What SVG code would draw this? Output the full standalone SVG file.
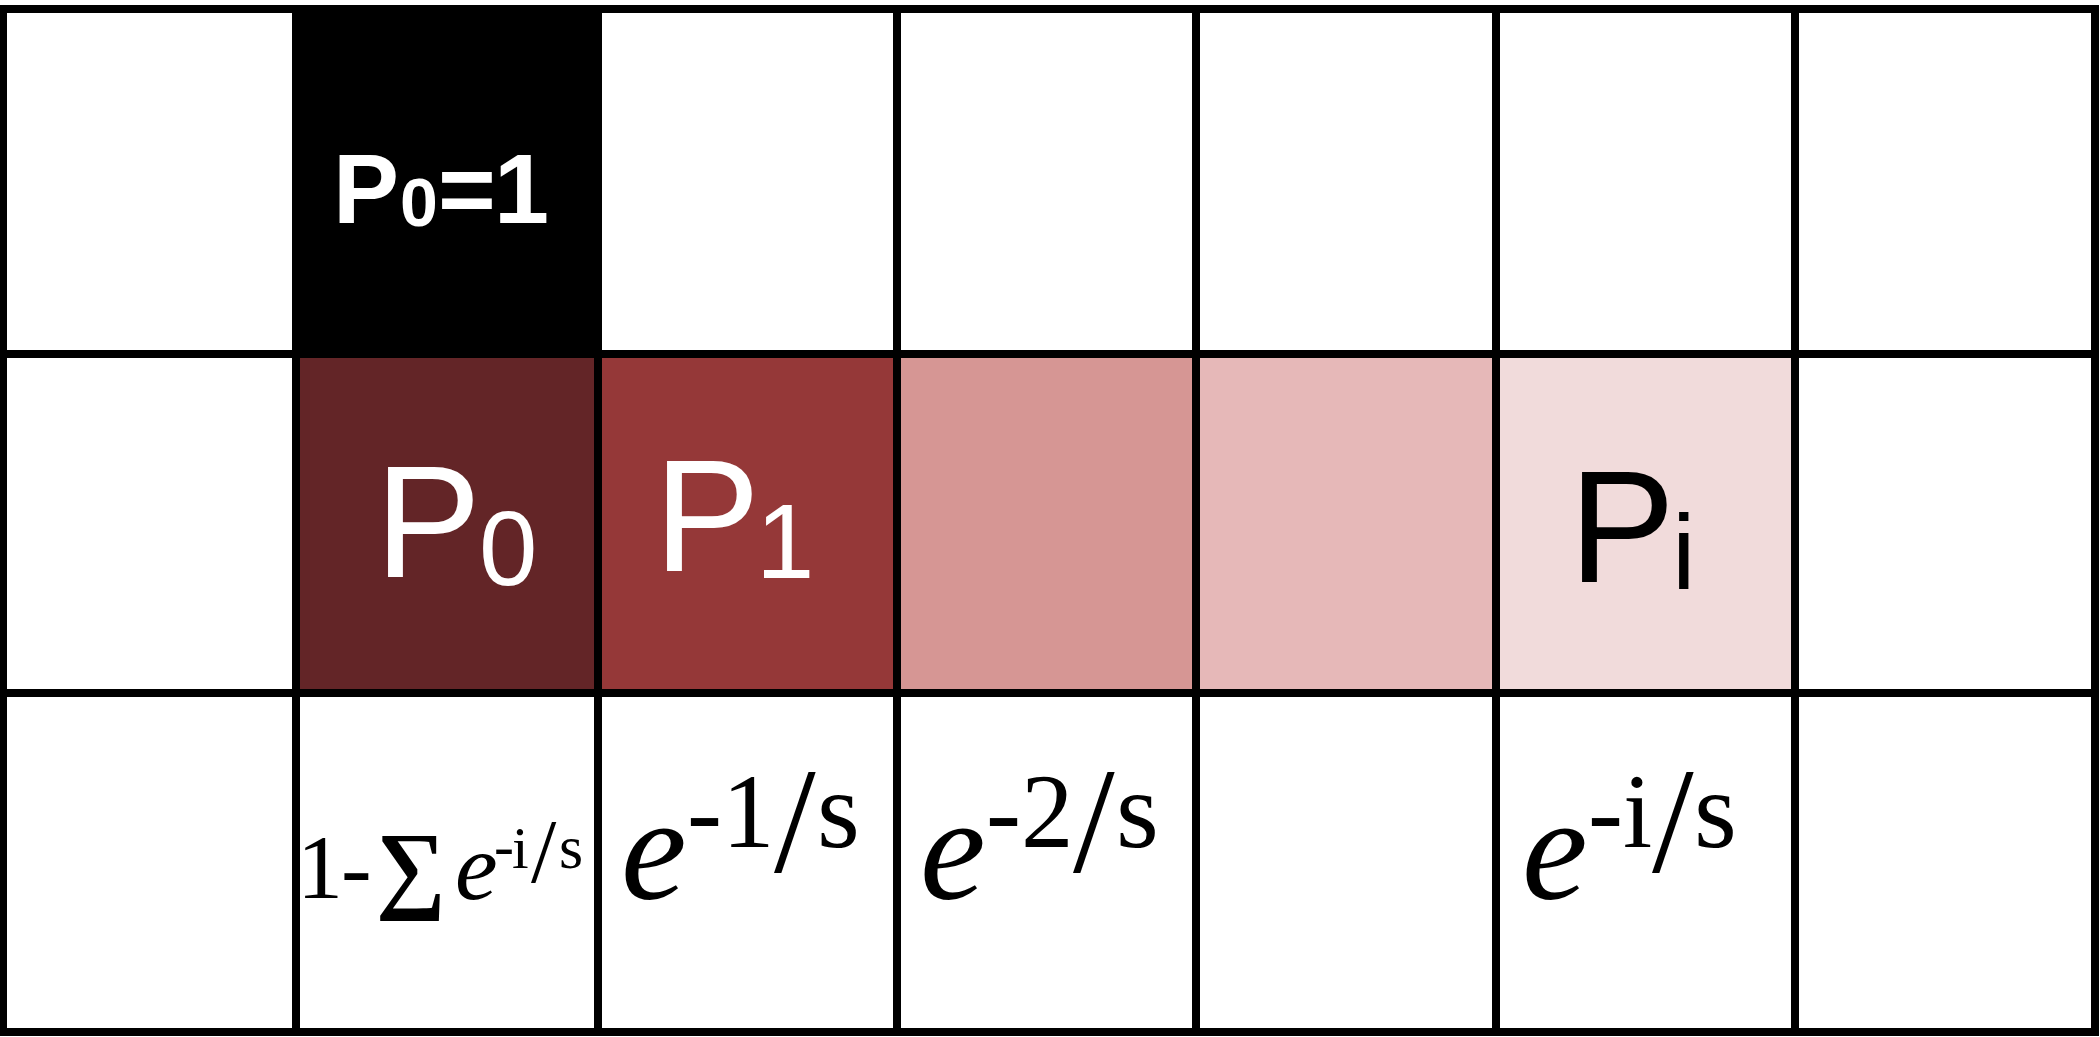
<svg xmlns="http://www.w3.org/2000/svg" width="2100" height="1037" viewBox="0 0 2100 1037">
<style>
.sans{font-family:"Liberation Sans",Arial,sans-serif;}
.serif{font-family:"Liberation Serif","Times New Roman",serif;fill:#000;}
.it{font-style:italic;}
.grid{fill:none;stroke:#000;stroke-width:8;stroke-linecap:square;}
</style>
<rect x="0" y="0" width="2100" height="1037" fill="#ffffff"/>
<g id="cells">
  <g id="cell-p0-top">
    <rect x="296" y="9" width="302" height="345" fill="#000000"/>
    <text class="sans" fill="#ffffff" font-weight="bold" font-size="99" x="333" y="223">P<tspan font-size="68" x="400" y="226">0</tspan><tspan x="438" y="223">=</tspan><tspan x="494" y="223">1</tspan></text>
  </g>
  <g id="cell-p0">
    <rect x="296" y="354" width="302" height="339" fill="#632527"/>
    <text class="sans" fill="#ffffff" font-size="159" x="375" y="577">P<tspan font-size="105" x="479" y="585">0</tspan></text>
  </g>
  <g id="cell-p1">
    <rect x="598" y="354" width="299" height="339" fill="#953838"/>
    <text class="sans" fill="#ffffff" font-size="159" x="654" y="571">P<tspan font-size="105" x="756" y="578">1</tspan></text>
  </g>
  <g id="cell-p2">
    <rect x="897" y="354" width="299" height="339" fill="#d69694"/>
  </g>
  <g id="cell-p3">
    <rect x="1196" y="354" width="300" height="339" fill="#e6b8b8"/>
  </g>
  <g id="cell-pi">
    <rect x="1496" y="354" width="299" height="339" fill="#f1dbdb"/>
    <text class="sans" fill="#000000" font-size="159" x="1569" y="582">P<tspan font-size="106" x="1672" y="589">i</tspan></text>
  </g>
  <g id="label-sum">
    <text class="serif" font-size="92" x="297" y="898">1<tspan x="341">-</tspan><tspan x="376" y="900" font-size="98" font-weight="bold">∑</tspan><tspan class="it" x="455" y="899" font-size="96">e</tspan><tspan x="494" y="866" font-size="60">-</tspan><tspan x="512" y="868" font-size="60">i</tspan><tspan x="531" y="882" font-size="91">/</tspan><tspan x="559" y="868" font-size="62">s</tspan></text>
  </g>
  <g id="label-e1">
    <text class="serif" font-size="105" x="621" y="899"><tspan class="it" font-size="148">e</tspan><tspan x="687" y="847">-</tspan><tspan x="722" y="847">1</tspan><tspan x="774" y="872" font-size="150">/</tspan><tspan x="817" y="847" font-size="110">s</tspan></text>
  </g>
  <g id="label-e2">
    <text class="serif" font-size="105" x="920" y="899"><tspan class="it" font-size="148">e</tspan><tspan x="986" y="847">-</tspan><tspan x="1021" y="847">2</tspan><tspan x="1073" y="872" font-size="150">/</tspan><tspan x="1116" y="847" font-size="110">s</tspan></text>
  </g>
  <g id="label-ei">
    <text class="serif" font-size="105" x="1522" y="899"><tspan class="it" font-size="148">e</tspan><tspan x="1588" y="847">-</tspan><tspan x="1623" y="847">i</tspan><tspan x="1652" y="872" font-size="150">/</tspan><tspan x="1694" y="847" font-size="110">s</tspan></text>
  </g>
</g>
<g id="connectors">
  <path class="grid" d="M3 9H2095V1032H3Z M296 9V1032 M598 9V1032 M897 9V1032 M1196 9V1032 M1496 9V1032 M1795 9V1032 M3 354H2095 M3 693H2095"/>
</g>
</svg>
